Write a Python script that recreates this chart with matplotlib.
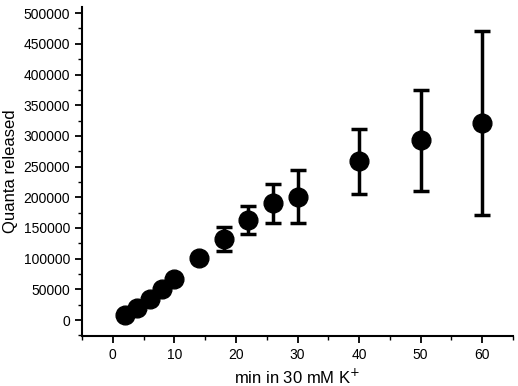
import numpy as np
import matplotlib.pyplot as plt
from matplotlib.ticker import MultipleLocator

# Time in K+ (min) vs cumulative quanta released
minutes = [2, 4, 6, 8, 10, 14, 18, 22, 26, 30, 40, 50, 60]
quanta = [8000, 19500, 34000, 50500, 67000, 101000, 132000, 163000, 190000, 201000, 259000, 293000, 321000]
errors = [0, 0, 0, 0, 0, 0, 19000, 23000, 32000, 43000, 53000, 82000, 150000]

plt.rcParams['font.family'] = ['Liberation Sans', 'DejaVu Sans']

fig = plt.figure(figsize=(5.18, 3.86), dpi=100)
ax = fig.add_axes([82 / 518, 50 / 386, 431 / 518, 329 / 386])

x = np.array(minutes)
y = np.array(quanta)
e = np.array(errors)
has_err = e > 0

# error bars only where there is an error (first points have none drawn)
ax.errorbar(x[has_err], y[has_err], yerr=e[has_err], fmt='none', ecolor='black',
            elinewidth=2.5, capsize=6, capthick=2.5)
ax.plot(x, y, 'o', color='black', markersize=13.5)

ax.set_xlim(-5, 65)
ax.set_ylim(-26000, 510000)
ax.xaxis.set_major_locator(MultipleLocator(10))
ax.xaxis.set_minor_locator(MultipleLocator(5))
ax.yaxis.set_major_locator(MultipleLocator(50000))
ax.yaxis.set_minor_locator(MultipleLocator(25000))
ax.set_xticks(np.arange(0, 61, 10))

for side in ['top', 'right']:
    ax.spines[side].set_visible(False)
for side in ['left', 'bottom']:
    ax.spines[side].set_linewidth(1.5)

ax.tick_params(which='major', direction='out', length=5, width=1.3, labelsize=10)
ax.tick_params(which='minor', direction='out', length=3, width=1)

ax.set_xlabel('min in 30 mM K$^{+}$', fontsize=12, labelpad=4)
ax.set_ylabel('Quanta released', fontsize=12, labelpad=4)

fig.savefig('out.png', dpi=100)
